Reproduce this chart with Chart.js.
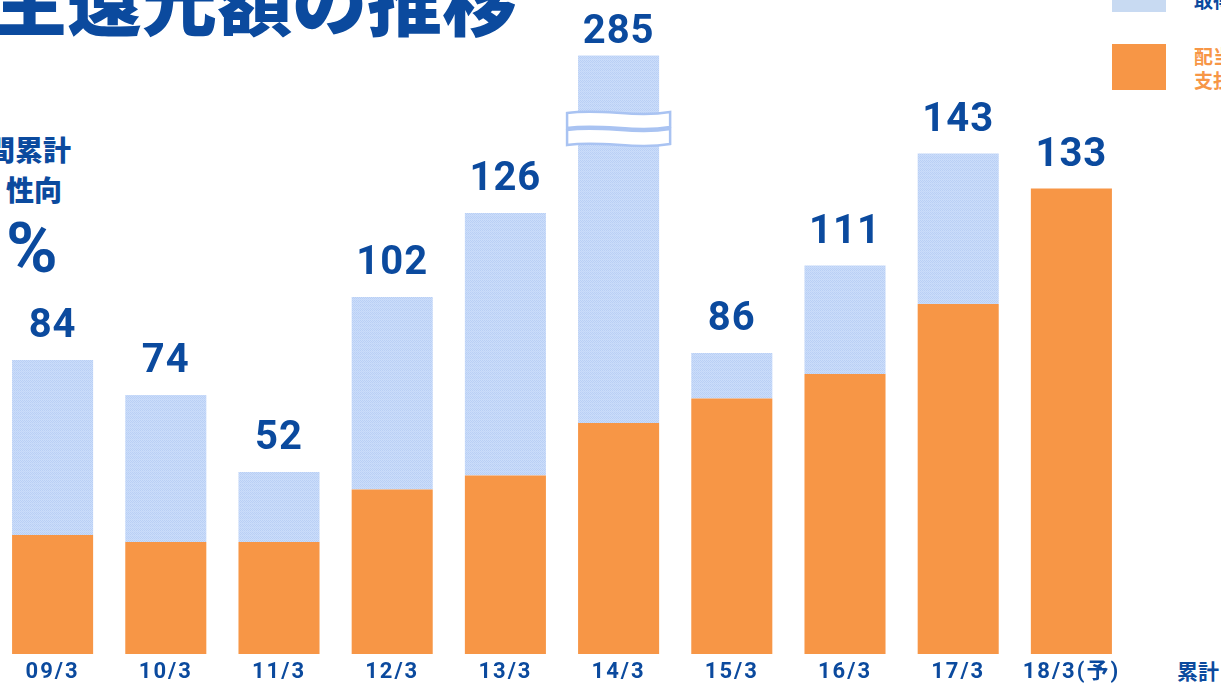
<!DOCTYPE html>
<html>
<head>
<meta charset="utf-8">
<script src="https://cdn.jsdelivr.net/npm/chart.js@4/dist/chart.umd.min.js"></script>
<style>
  html, body { margin:0; padding:0; width:1221px; height:684px; overflow:hidden; background:#fff; }
  #wrap { position:absolute; left:-4px; top:0; width:1132px; height:684px; }
  .t { position:absolute; white-space:nowrap; font-family:"Noto Sans CJK JP", sans-serif; font-weight:700; }
</style>
</head>
<body>
<div class="t" id="title" style="left:-83px; top:-40px; font-size:75px; line-height:75px; font-weight:900; color:#0B4A9E;">株主還元額の推移</div>
<div class="t" style="right:1150px; top:132px; font-size:28px; line-height:34px; font-weight:900; color:#0B4A9E; text-align:right;">期間累計</div>
<div class="t" style="left:6px; top:172px; font-size:28px; line-height:34px; font-weight:900; color:#0B4A9E;">性向</div>
<div class="t" style="left:6px; top:208px; font-size:70px; line-height:80px; font-family:Roboto, sans-serif; color:#0B4A9E;">%</div>

<div style="position:absolute; left:1112px; top:-10px; width:54px; height:22px; background:#C8DAF2;"></div>
<div class="t" style="left:1194px; top:-11px; font-size:19px; line-height:22px; color:#0B4A9E;">取得</div>
<div style="position:absolute; left:1112px; top:44px; width:54px; height:46px; background:#F79646;"></div>
<div class="t" style="left:1194px; top:44px; font-size:19px; line-height:24px; color:#F79646;">配当<br>支払</div>

<div class="t" style="left:1177px; top:656px; font-size:21px; line-height:28px; color:#0B4A9E;">累計</div>

<div id="wrap"><canvas id="c" width="1132" height="684"></canvas></div>
<script>
// ---- data ----
const categories = ["09/3","10/3","11/3","12/3","13/3","14/3","15/3","16/3","17/3","18/3(予)"];
const dividend   = [34, 32, 32, 47, 51, 66, 73, 80, 100, 133];   // 配当金支払
const buyback    = [50, 42, 20, 55, 75, 219, 13, 31, 43, 0];     // 自己株式取得
const totals     = [84, 74, 52, 102, 126, 285, 86, 111, 143, 133]; // labels
const brokenIndex = 5;      // 14/3 bar drawn with an axis break
const breakCap   = 171;     // displayed height of broken bar (data units)
const breakAt    = 150;     // where the break symbol sits (data units)
const yMax       = 186.86;

const BLUE = "#0B4A9E", ORANGE = "#F79646";

const buybackShown = buyback.map((v, i) => i === brokenIndex ? Math.max(0, breakCap - dividend[i]) : v);

function makePattern(ctx) {
  const p = document.createElement("canvas");
  p.width = 4; p.height = 4;
  const g = p.getContext("2d");
  g.fillStyle = "#CBDDFA"; g.fillRect(0,0,4,4);
  g.fillStyle = "#B9CFF5";
  g.fillRect(0,0,1,1); g.fillRect(2,0,1,1); g.fillRect(1,1,1,1); g.fillRect(3,1,1,1);
  g.fillRect(0,2,1,1); g.fillRect(2,2,1,1);
  g.fillStyle = "#C2D6F8";
  g.fillRect(1,3,1,1); g.fillRect(3,3,1,1);
  return ctx.createPattern(p, "repeat");
}
const ctx0 = document.getElementById("c").getContext("2d");
const pattern = makePattern(ctx0);

const overlay = {
  id: "overlay",
  beforeDraw(chart) { chart.ctx.letterSpacing = "2px"; },
  afterDatasetsDraw(chart) {
    const ctx = chart.ctx;
    const y = chart.scales.y;
    const top = chart.getDatasetMeta(1).data;
    // axis break symbol
    const bar = top[brokenIndex];
    const cx = bar.x, w = bar.width + 22;
    const left = cx - w / 2, right = cx + w / 2;
    const yc = y.getPixelForValue(breakAt);
    const h = 15;
    function wave(y0) {
      ctx.beginPath();
      ctx.moveTo(left, y0);
      ctx.bezierCurveTo(left + w * 0.35, y0 - 5, left + w * 0.65, y0 + 5, right, y0 - 1);
      ctx.lineTo(right, y0 - 1 + h);
      ctx.bezierCurveTo(left + w * 0.65, y0 + h + 5, left + w * 0.35, y0 + h - 5, left, y0 + h);
      ctx.closePath();
      ctx.fillStyle = "#fff"; ctx.fill();
      ctx.strokeStyle = "#A9C3F2"; ctx.lineWidth = 2.5; ctx.stroke();
    }
    ctx.save();
    wave(yc - h - 1);
    wave(yc + 1);
    ctx.restore();
    // value labels
    ctx.save();
    ctx.letterSpacing = "1px";
    ctx.font = "bold 40px Roboto, sans-serif";
    ctx.fillStyle = BLUE;
    ctx.textAlign = "center";
    ctx.textBaseline = "alphabetic";
    top.forEach((el, i) => {
      const gap = i === brokenIndex ? 13 : 23;
      ctx.fillText(String(totals[i]), el.x, el.y - gap);
    });
    ctx.restore();
  }
};

new Chart(ctx0, {
  type: "bar",
  data: {
    labels: categories,
    datasets: [
      { label: "配当金支払", data: dividend, backgroundColor: ORANGE, stack: "s" },
      { label: "自己株式取得", data: buybackShown, backgroundColor: pattern, stack: "s" }
    ]
  },
  options: {
    responsive: false,
    devicePixelRatio: 1,
    animation: false,
    layout: { padding: 0 },
    datasets: { bar: { categoryPercentage: 1, barPercentage: 0.716, borderWidth: 0 } },
    plugins: { legend: { display: false }, tooltip: { enabled: false } },
    scales: {
      x: {
        stacked: true,
        grid: { display: false, drawTicks: false },
        border: { display: false },
        ticks: { color: BLUE, padding: 5, font: { family: "Roboto, 'Noto Sans CJK JP', sans-serif", size: 22, weight: "bold" } },
        afterFit(s) { s.height = 30; }
      },
      y: { stacked: true, display: false, min: 0, max: yMax }
    }
  },
  plugins: [overlay]
});
</script>
</body>
</html>
